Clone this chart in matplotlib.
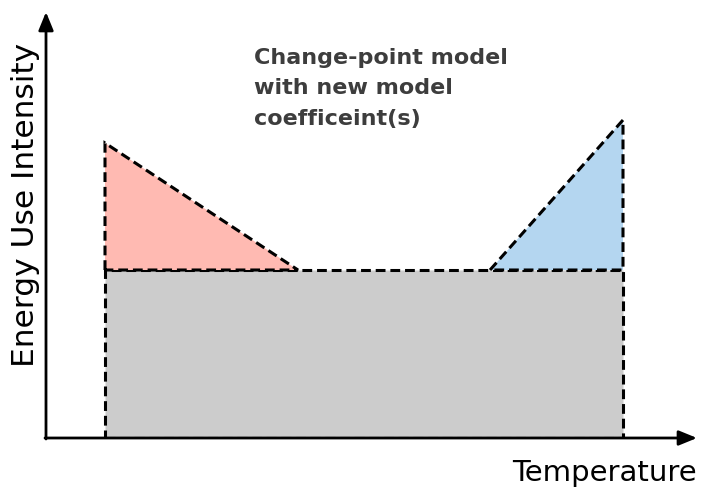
import matplotlib.pyplot as plt
from matplotlib.patches import Polygon

# schematic coordinates (arbitrary units, origin at the axes corner)
x_edges = [59, 252, 444, 577]      # left edge, heating change point, cooling change point, right edge
base_level = 168
heating_top = 295
cooling_top = 318
axis_ends = [651, 426]

title_lines = ["Change-point model", "with new model", "coefficeint(s)"]
x_label = "Temperature"
y_label = "Energy Use Intensity"


def make_plot():
    plt.rcParams['font.family'] = ['DejaVu Sans']
    fig = plt.figure(figsize=(7.11, 4.90), dpi=100)
    ax = fig.add_axes([46 / 711, 52 / 490, 665 / 711, 438 / 490])
    ax.set_xlim(0, 665)
    ax.set_ylim(0, 438)
    ax.axis('off')

    xl, xh, xc, xr = x_edges
    dash = dict(edgecolor='black', lw=2.2, linestyle=(0, (3.2, 1.6)), closed=True, joinstyle='miter')

    ax.add_patch(Polygon([[xl, 0], [xr, 0], [xr, base_level], [xl, base_level]],
                         facecolor='#cccccc', **dash))
    ax.add_patch(Polygon([[xl, base_level], [xl, heating_top], [xh, base_level]],
                         facecolor='#ffbab2', **dash))
    ax.add_patch(Polygon([[xc, base_level], [xr, cooling_top], [xr, base_level]],
                         facecolor='#b4d6f0', **dash))

    # axes with arrows
    ax.annotate('', xy=(axis_ends[0], 0), xytext=(-1, 0),
                arrowprops=dict(arrowstyle='-|>,head_length=1.1,head_width=0.45',
                                color='black', lw=2, shrinkA=0, shrinkB=0))
    ax.annotate('', xy=(0, axis_ends[1]), xytext=(0, -1),
                arrowprops=dict(arrowstyle='-|>,head_length=1.1,head_width=0.45',
                                color='black', lw=2, shrinkA=0, shrinkB=0))

    ax.text(208, 390, "\n".join(title_lines), fontsize=16, fontweight='bold',
            color='#3d3d3d', va='top', ha='left', linespacing=1.65)

    fig.text(697 / 711, 1 - 473 / 490, x_label, fontsize=21, ha='right', va='center')
    fig.text(26 / 711, 1 - 205 / 490, y_label, fontsize=22.5, rotation=90,
             ha='center', va='center')

    fig.savefig('out.png', dpi=100)


if __name__ == "__main__":
    make_plot()
